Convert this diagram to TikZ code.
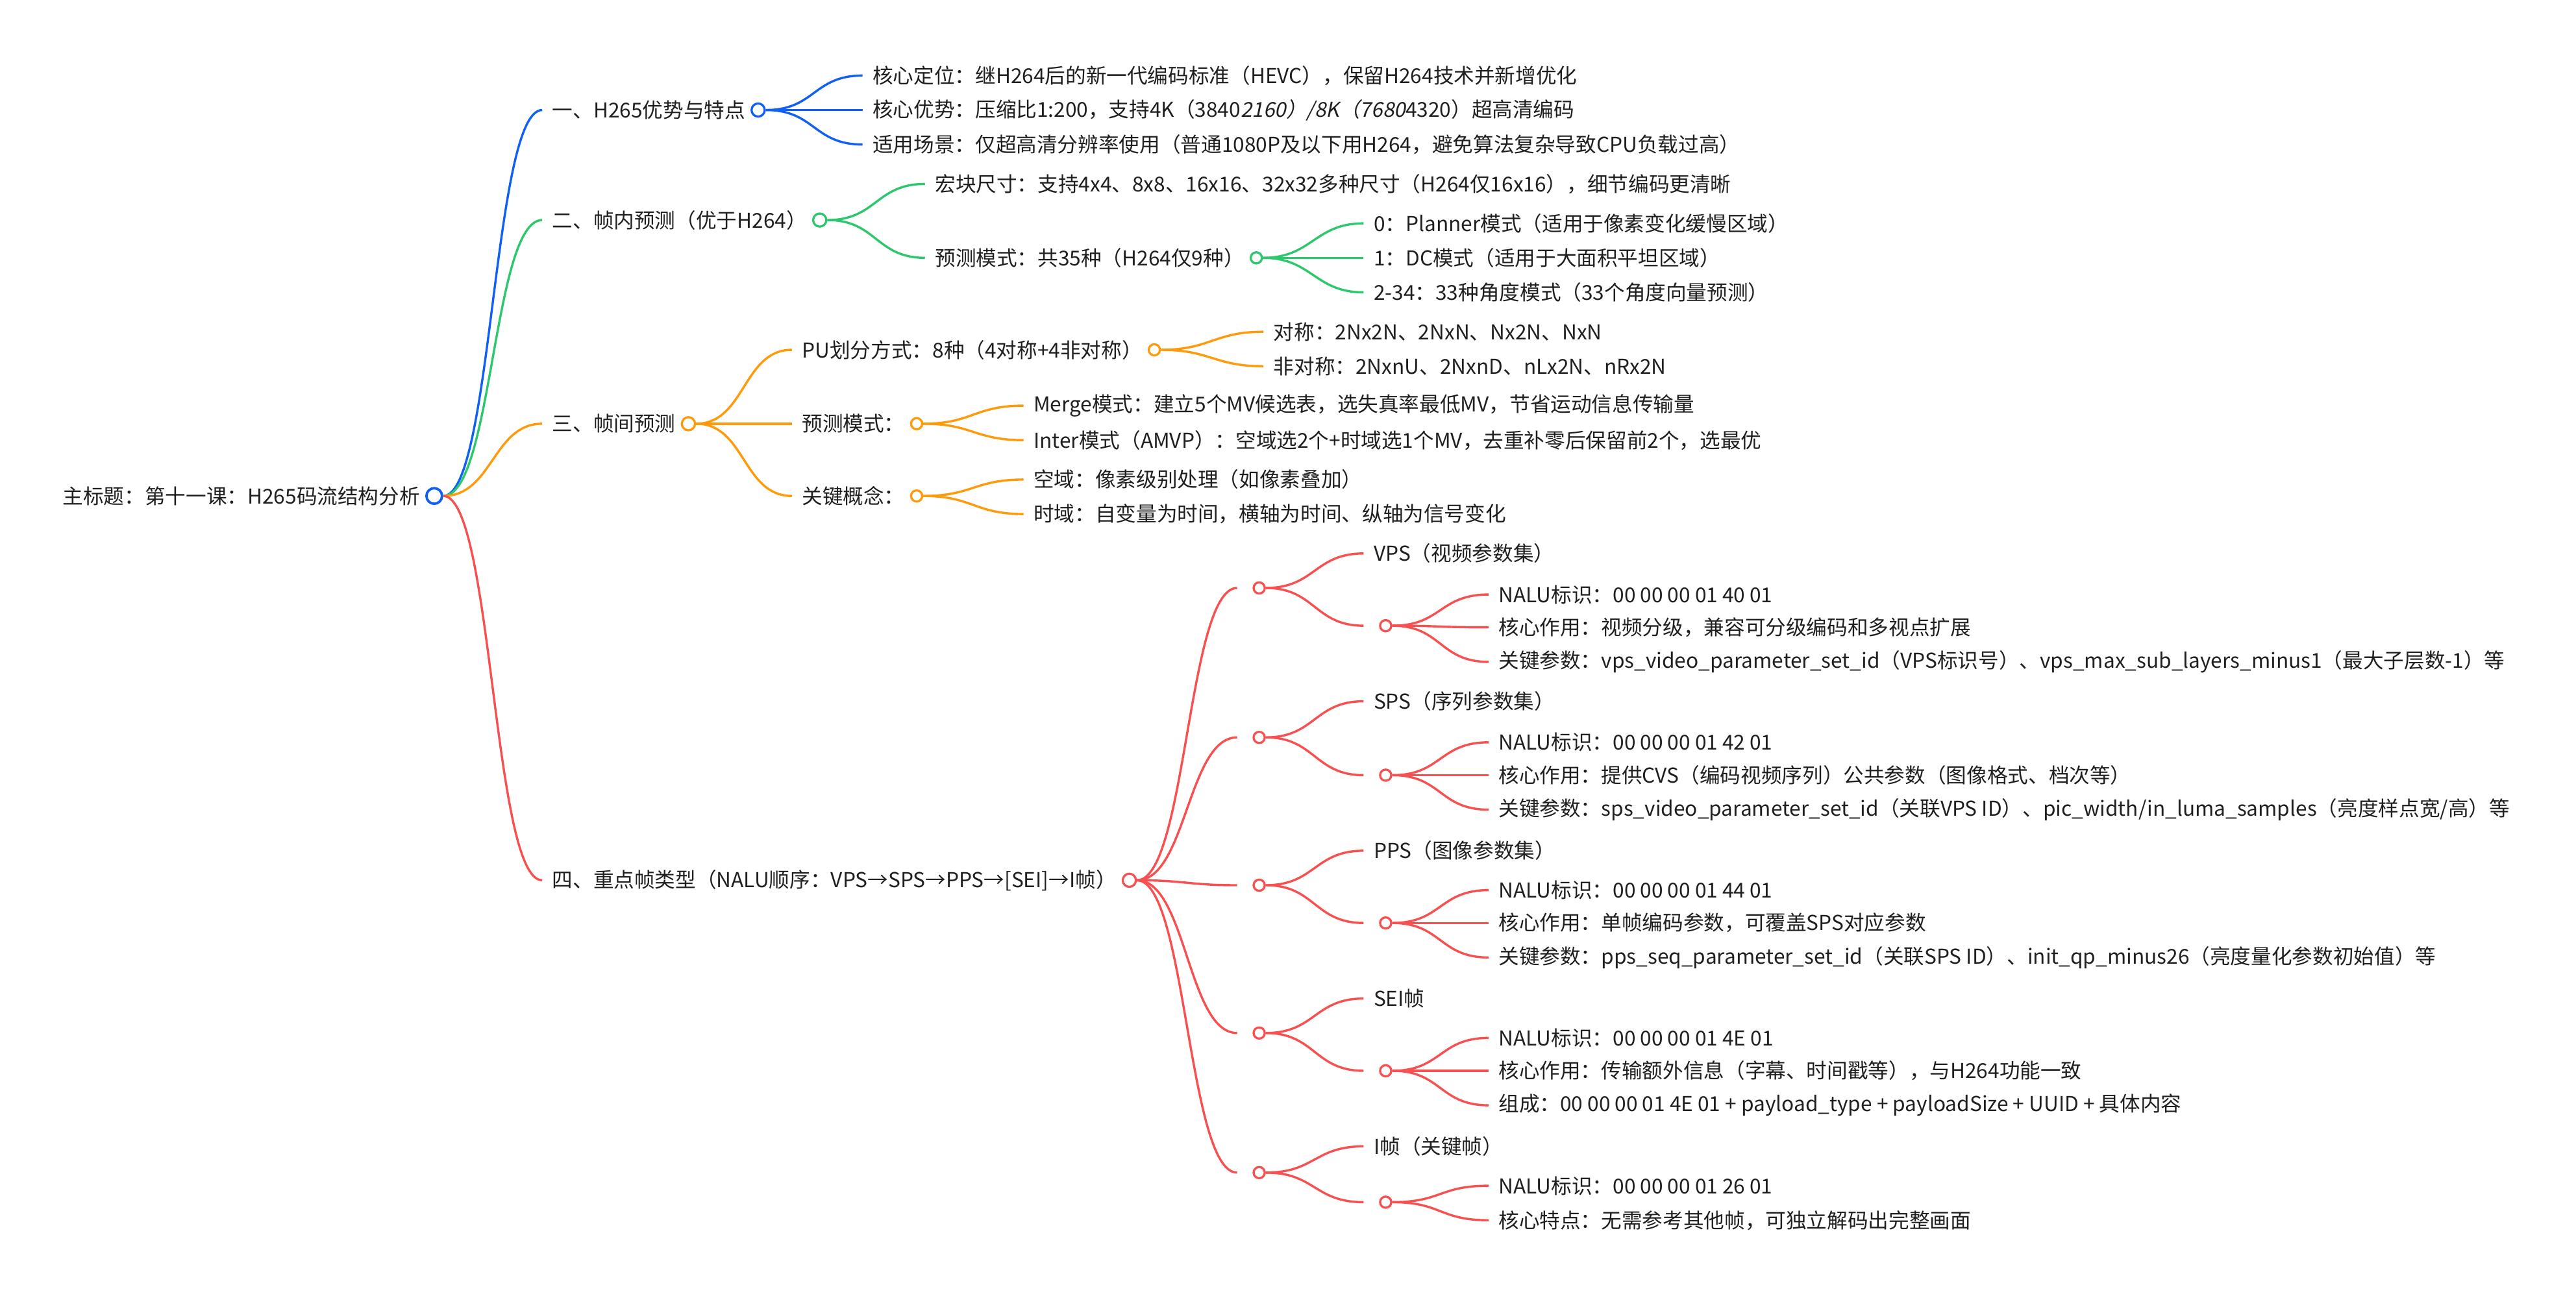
\documentclass[tikz,border=0pt]{standalone}
\usepackage{fontspec}
\newfontfamily\cjk{Noto Sans CJK SC}
\newfontfamily\cjkit[FakeSlant=0.2]{Noto Sans CJK SC}
\usetikzlibrary{positioning}

\definecolor{mmblue}{HTML}{1060F5}
\definecolor{mmgreen}{HTML}{2DC86E}
\definecolor{mmorange}{HTML}{FF9A0A}
\definecolor{mmred}{HTML}{F85050}

\tikzset{
  txt/.style={anchor=west, inner xsep=6pt, inner ysep=0pt, text=black!88,
    font=\cjk\fontsize{12.5}{15}\selectfont},
  dot/.style={circle, draw=#1, fill=white, line width=1.3pt, inner sep=0pt,
    minimum size=6.8pt},
  lvl1/.style={minimum size=8pt},
  top/.style={minimum size=9.5pt, line width=1.5pt},
  link/.style={draw=#1, line width=1.35pt},
}

\begin{document}
\begin{tikzpicture}[x=1pt,y=-1pt]
  \newcommand{\linkto}[3]{\draw[link=#1] (#2.east) .. controls +(30,0) and +(-30,0) .. (#3.west);}
  \useasboundingbox (0,0) rectangle (1568,789);

  % root
  \node[txt] (root) at (32,302) {主标题：第十一课：H265码流结构分析};
  \node[dot=mmblue, top, right=-3pt of root] (rooto) {};

  % first level
  \node[txt] (h1) at (330,67) {一、H265优势与特点};
  \node[dot=mmblue, lvl1, right=-3pt of h1] (h1o) {};
  \node[txt] (h2) at (330,134) {二、帧内预测（优于H264）};
  \node[dot=mmgreen, lvl1, right=-3pt of h2] (h2o) {};
  \node[txt] (h3) at (330,258) {三、帧间预测};
  \node[dot=mmorange, lvl1, right=-3pt of h3] (h3o) {};
  \node[txt] (h4) at (330,536) {四、重点帧类型（NALU顺序：VPS→SPS→PPS→[SEI]→I帧）};
  \node[dot=mmred, lvl1, right=-3pt of h4] (h4o) {};
  \linkto{mmblue}{rooto}{h1}
  \linkto{mmgreen}{rooto}{h2}
  \linkto{mmorange}{rooto}{h3}
  \linkto{mmred}{rooto}{h4}

  % H265 advantages
  \node[txt] (h1a) at (525,46) {核心定位：继H264后的新一代编码标准（HEVC），保留H264技术并新增优化};
  \node[txt] (h1b) at (525,67) {核心优势：压缩比1:200，支持4K（3840{\cjkit 2160）/8K（7680}4320）超高清编码};
  \node[txt] (h1c) at (525,88) {适用场景：仅超高清分辨率使用（普通1080P及以下用H264，避免算法复杂导致CPU负载过高）};
  \linkto{mmblue}{h1o}{h1a}
  \linkto{mmblue}{h1o}{h1b}
  \linkto{mmblue}{h1o}{h1c}

  % intra prediction
  \node[txt] (h2a) at (563,112) {宏块尺寸：支持4x4、8x8、16x16、32x32多种尺寸（H264仅16x16），细节编码更清晰};
  \node[txt] (h2b) at (563,157) {预测模式：共35种（H264仅9种）};
  \node[dot=mmgreen, right=-3pt of h2b] (h2bo) {};
  \node[txt] (h2b1) at (830,136) {0：Planner模式（适用于像素变化缓慢区域）};
  \node[txt] (h2b2) at (830,157) {1：DC模式（适用于大面积平坦区域）};
  \node[txt] (h2b3) at (830,178) {2-34：33种角度模式（33个角度向量预测）};
  \linkto{mmgreen}{h2o}{h2a}
  \linkto{mmgreen}{h2o}{h2b}
  \linkto{mmgreen}{h2bo}{h2b1}
  \linkto{mmgreen}{h2bo}{h2b2}
  \linkto{mmgreen}{h2bo}{h2b3}

  % inter prediction
  \node[txt] (h3a) at (482,213) {PU划分方式：8种（4对称+4非对称）};
  \node[dot=mmorange, right=-3pt of h3a] (h3ao) {};
  \node[txt] (h3b) at (482,258) {预测模式：};
  \node[dot=mmorange, right=-3pt of h3b] (h3bo) {};
  \node[txt] (h3c) at (482,302) {关键概念：};
  \node[dot=mmorange, right=-3pt of h3c] (h3co) {};
  \node[txt] (h3a1) at (769,202) {对称：2Nx2N、2NxN、Nx2N、NxN};
  \node[txt] (h3a2) at (769,223) {非对称：2NxnU、2NxnD、nLx2N、nRx2N};
  \node[txt] (h3b1) at (623,247) {Merge模式：建立5个MV候选表，选失真率最低MV，节省运动信息传输量};
  \node[txt] (h3b2) at (623,268) {Inter模式（AMVP）：空域选2个+时域选1个MV，去重补零后保留前2个，选最优};
  \node[txt] (h3c1) at (623,292) {空域：像素级别处理（如像素叠加）};
  \node[txt] (h3c2) at (623,313) {时域：自变量为时间，横轴为时间、纵轴为信号变化};
  \linkto{mmorange}{h3o}{h3a}
  \linkto{mmorange}{h3o}{h3b}
  \linkto{mmorange}{h3o}{h3c}
  \linkto{mmorange}{h3ao}{h3a1}
  \linkto{mmorange}{h3ao}{h3a2}
  \linkto{mmorange}{h3bo}{h3b1}
  \linkto{mmorange}{h3bo}{h3b2}
  \linkto{mmorange}{h3co}{h3c1}
  \linkto{mmorange}{h3co}{h3c2}

  % frame types: VPS
  \node[txt] (vps) at (753,358) {};
  \node[dot=mmred, right=-3pt of vps] (vpso) {};
  \node[txt] (vpst) at (830,337) {VPS（视频参数集）};
  \node[txt] (vpsd) at (830,381) {};
  \node[dot=mmred, right=-3pt of vpsd] (vpsdo) {};
  \node[txt] (vps1) at (906,362) {NALU标识：00 00 00 01 40 01};
  \node[txt] (vps2) at (906,382) {核心作用：视频分级，兼容可分级编码和多视点扩展};
  \node[txt] (vps3) at (906,403) {关键参数：vps\_video\_parameter\_set\_id（VPS标识号）、vps\_max\_sub\_layers\_minus1（最大子层数-1）等};
  \linkto{mmred}{h4o}{vps}
  \linkto{mmred}{vpso}{vpst}
  \linkto{mmred}{vpso}{vpsd}
  \linkto{mmred}{vpsdo}{vps1}
  \linkto{mmred}{vpsdo}{vps2}
  \linkto{mmred}{vpsdo}{vps3}

  % SPS
  \node[txt] (sps) at (753,449) {};
  \node[dot=mmred, right=-3pt of sps] (spso) {};
  \node[txt] (spst) at (830,427) {SPS（序列参数集）};
  \node[txt] (spsd) at (830,472) {};
  \node[dot=mmred, right=-3pt of spsd] (spsdo) {};
  \node[txt] (sps1) at (906,452) {NALU标识：00 00 00 01 42 01};
  \node[txt] (sps2) at (906,472) {核心作用：提供CVS（编码视频序列）公共参数（图像格式、档次等）};
  \node[txt] (sps3) at (906,493) {关键参数：sps\_video\_parameter\_set\_id（关联VPS ID）、pic\_width/in\_luma\_samples（亮度样点宽/高）等};
  \linkto{mmred}{h4o}{sps}
  \linkto{mmred}{spso}{spst}
  \linkto{mmred}{spso}{spsd}
  \linkto{mmred}{spsdo}{sps1}
  \linkto{mmred}{spsdo}{sps2}
  \linkto{mmred}{spsdo}{sps3}

  % PPS
  \node[txt] (pps) at (753,539) {};
  \node[dot=mmred, right=-3pt of pps] (ppso) {};
  \node[txt] (ppst) at (830,518) {PPS（图像参数集）};
  \node[txt] (ppsd) at (830,562) {};
  \node[dot=mmred, right=-3pt of ppsd] (ppsdo) {};
  \node[txt] (pps1) at (906,542) {NALU标识：00 00 00 01 44 01};
  \node[txt] (pps2) at (906,562) {核心作用：单帧编码参数，可覆盖SPS对应参数};
  \node[txt] (pps3) at (906,583) {关键参数：pps\_seq\_parameter\_set\_id（关联SPS ID）、init\_qp\_minus26（亮度量化参数初始值）等};
  \linkto{mmred}{h4o}{pps}
  \linkto{mmred}{ppso}{ppst}
  \linkto{mmred}{ppso}{ppsd}
  \linkto{mmred}{ppsdo}{pps1}
  \linkto{mmred}{ppsdo}{pps2}
  \linkto{mmred}{ppsdo}{pps3}

  % SEI
  \node[txt] (sei) at (753,629) {};
  \node[dot=mmred, right=-3pt of sei] (seio) {};
  \node[txt] (seit) at (830,608) {SEI帧};
  \node[txt] (seid) at (830,652) {};
  \node[dot=mmred, right=-3pt of seid] (seido) {};
  \node[txt] (sei1) at (906,632) {NALU标识：00 00 00 01 4E 01};
  \node[txt] (sei2) at (906,652) {核心作用：传输额外信息（字幕、时间戳等），与H264功能一致};
  \node[txt] (sei3) at (906,673) {组成：00 00 00 01 4E 01 + payload\_type + payloadSize + UUID + 具体内容};
  \linkto{mmred}{h4o}{sei}
  \linkto{mmred}{seio}{seit}
  \linkto{mmred}{seio}{seid}
  \linkto{mmred}{seido}{sei1}
  \linkto{mmred}{seido}{sei2}
  \linkto{mmred}{seido}{sei3}

  % I frame
  \node[txt] (ifr) at (753,714) {};
  \node[dot=mmred, right=-3pt of ifr] (ifro) {};
  \node[txt] (ifrt) at (830,698) {I帧（关键帧）};
  \node[txt] (ifrd) at (830,732) {};
  \node[dot=mmred, right=-3pt of ifrd] (ifrdo) {};
  \node[txt] (ifr1) at (906,722) {NALU标识：00 00 00 01 26 01};
  \node[txt] (ifr2) at (906,743) {核心特点：无需参考其他帧，可独立解码出完整画面};
  \linkto{mmred}{h4o}{ifr}
  \linkto{mmred}{ifro}{ifrt}
  \linkto{mmred}{ifro}{ifrd}
  \linkto{mmred}{ifrdo}{ifr1}
  \linkto{mmred}{ifrdo}{ifr2}
\end{tikzpicture}
\end{document}
